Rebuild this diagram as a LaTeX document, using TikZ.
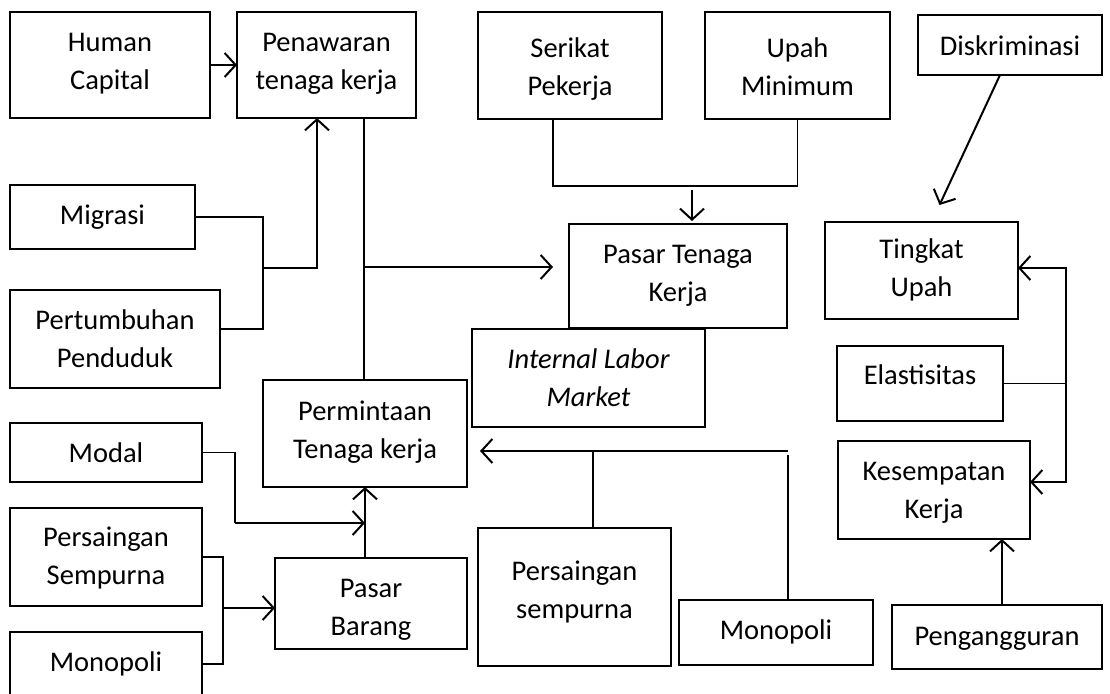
\documentclass[tikz,border=0pt]{standalone}
\usepackage{fontspec}
\setmainfont{Carlito}
\usetikzlibrary{arrows.meta}
\newcommand\tbox[7]{%
  \node[bx, minimum width={(#4-#2)*1pt}, minimum height={(#5-#3)*1pt}] (#1) at ({(#2+#4)/2},{(#3+#5)/2}) {};
  \node[tx, anchor=base] (#1t) at ({(#2+#4)/2},{#3+#7}) {#6};}
\begin{document}
\begin{tikzpicture}[x=1pt,y=-1pt,
  bx/.style={draw, line width=2.2pt, inner sep=0pt, outer sep=0pt},
  tx/.style={align=center, font=\fontsize{28.5}{38}\selectfont, inner sep=0pt},
  ln/.style={line width=1.1pt},
  lnb/.style={line width=2pt},
  arr/.style={-{Straight Barb[length=11pt,width=24pt]}}]
\useasboundingbox[fill=white] (0,0) rectangle (1110,693);
% boxes (last argument: baseline of the last text line below the box top)
\tbox{hc}{10}{12}{210}{118}{Human\\Capital}{77}
\tbox{pen}{237}{12}{416}{118}{Penawaran\\tenaga kerja}{77}
\tbox{ser}{478}{12}{662}{119}{Serikat\\Pekerja}{83}
\tbox{upah}{705}{12}{890}{119}{Upah\\Minimum}{83}
\tbox{disk}{918}{15}{1102}{75}{Diskriminasi}{41}
\tbox{mig}{10}{185}{195}{249}{Migrasi}{39}
\tbox{pert}{10}{290}{220}{388}{Pertumbuhan\\Penduduk}{77}
\tbox{ptk}{569}{224}{787}{328}{Pasar Tenaga\\Kerja}{77}
\tbox{ilm}{472}{329}{705}{427}{\itshape Internal Labor\\\itshape Market}{77}
\tbox{tu}{825}{222}{1018}{319}{Tingkat\\Upah}{74}
\tbox{el}{837}{346}{1003}{421}{Elastisitas}{38}
\tbox{ks}{838}{441}{1030}{539}{Kesempatan\\Kerja}{77}
\tbox{perm}{263}{380}{467}{487}{Permintaan\\Tenaga kerja}{78}
\tbox{mod}{10}{423}{202}{482}{Modal}{39}
\tbox{ps1}{10}{508}{202}{606}{Persaingan\\Sempurna}{76}
\tbox{mo1}{10}{632}{202}{696}{Monopoli}{39}
\tbox{pb}{275}{558}{467}{649}{Pasar\\Barang}{77}
\tbox{ps2}{478}{528}{671}{666}{Persaingan\\sempurna}{90}
\tbox{mo2}{679}{600}{873}{665}{Monopoli}{39}
\tbox{pg}{892}{605}{1102}{669}{Pengangguran}{40}
% junction coordinates
\coordinate (j1) at (364,267);
\coordinate (j2) at (263,268);
\coordinate (j4) at (692,186);
\coordinate (j5) at (1066,386);
\coordinate (j6) at (788,451);
\coordinate (j7) at (235,523);
\coordinate (j9) at (223,608);
% connectors
\draw[lnb,arr] (hc.east) -- (pen.west);
\draw[ln] (pen.south -| j1) -- (perm.north -| j1);
\draw[lnb,arr,shorten >=16pt] (j1) -- (ptk.west |- j1);
\draw[ln] (mig.east) -| (j2) |- ([yshift=10pt]pert.east);
\draw[lnb,arr] (j2) -| ([xshift=-9.5pt]pen.south);
\draw[ln] ([xshift=-17pt]ser.south) |- (j4) -| (upah.south);
\draw[lnb,arr,shorten >=3pt] ([yshift=-4pt]j4) -- (ptk.north -| j4);
\draw[lnb,arr] ([xshift=-10pt]disk.south) -- ([xshift=18pt,yshift=17pt]tu.north);
\draw[ln] (el.east) -- (el.east -| j5);
\draw[lnb,arr] (j5) |- ([yshift=2.5pt]tu.east);
\draw[lnb,arr] (j5) |- ([yshift=8pt]ks.east);
\draw[lnb,arr] ([xshift=5pt]pg.north) -- ([xshift=5pt]pg.north |- ks.south);
\draw[lnb,arr,shorten >=13pt] (j6) -- (perm.east |- j6);
\draw[ln] ([xshift=18.5pt]ps2.north) -- ([xshift=18.5pt]ps2.north |- j6);
\draw[ln] ([xshift=12pt]mo2.north) -- ([xshift=12pt,yshift=-4pt]mo2.north |- j6);
\draw[ln] (mod.east) -| (j7);
\draw[lnb,arr] (j7) -- (perm.south |- j7);
\draw[lnb,arr] (pb.north -| perm.south) -- (perm.south);
\draw[ln] (ps1.east) -| (j9) |- (mo1.east);
\draw[lnb,arr] (j9) -- (pb.west |- j9);
\end{tikzpicture}
\end{document}
